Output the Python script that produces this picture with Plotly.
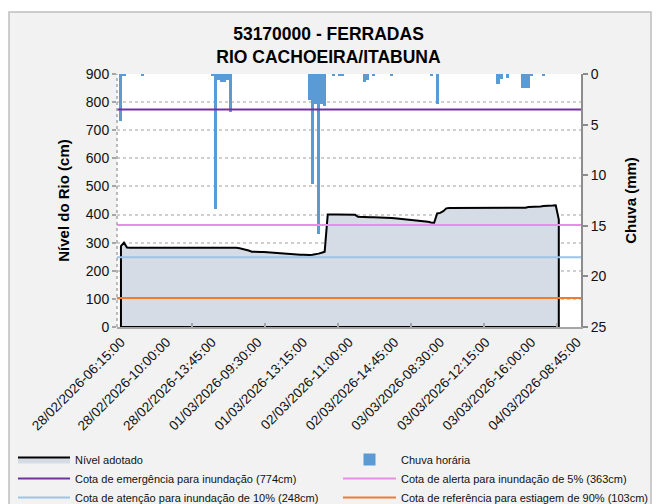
import plotly.graph_objects as go

# ---------------- data ----------------
tick_labels = [
    "28/02/2026-06:15:00", "28/02/2026-10:00:00", "28/02/2026-13:45:00",
    "01/03/2026-09:30:00", "01/03/2026-13:15:00", "02/03/2026-11:00:00",
    "02/03/2026-14:45:00", "03/03/2026-08:30:00", "03/03/2026-12:15:00",
    "03/03/2026-16:00:00", "04/03/2026-08:45:00",
]

level_cm = [
    288, 300, 283, 282, 282, 283, 282, 282, 282, 282,
    282, 282, 282, 282, 282, 282, 282, 282, 282, 282,
    282, 282, 282, 282, 282, 282, 282, 282, 282, 282,
    282, 282, 282, 282, 282, 282, 282, 282, 282, 280,
    278, 276, 272, 268, 267, 267, 267, 267, 266, 265,
    264, 263, 262, 262, 261, 260, 259, 258, 257, 257,
    257, 256, 256, 257, 258, 261, 264, 268, 400, 401,
    400, 400, 400, 400, 399, 399, 400, 399, 392, 391,
    390, 390, 390, 390, 390, 390, 390, 389, 389, 388,
    387, 386, 385, 384, 383, 381, 380, 379, 378, 376,
    375, 374, 372, 371, 404, 406, 412, 422, 423, 423,
    423, 423, 423, 423, 423, 423, 423, 423, 423, 423,
    423, 423, 423, 423, 423, 423, 423, 423, 423, 423,
    423, 423, 423, 424, 427, 427, 428, 428, 429, 430,
    430, 431, 432, 433, 382,
]

rain_mm = [
    4.6, 0.2, 0, 0, 0, 0, 0, 0.2, 0, 0,
    0, 0, 0, 0, 0, 0, 0, 0, 0, 0,
    0, 0, 0, 0, 0, 0, 0, 0, 0, 0,
    0.2, 13.3, 0.6, 0.8, 0.8, 0.6, 3.8, 0, 0, 0,
    0, 0, 0, 0, 0, 0, 0, 0, 0, 0,
    0, 0, 0, 0, 0, 0, 0, 0, 0, 0,
    0, 0, 2.6, 10.9, 3.0, 15.8, 3.0, 3.2, 0, 0,
    0.2, 0, 0.2, 0.2, 0, 0, 0, 0, 0, 0,
    0.8, 0.6, 0, 0.2, 0, 0, 0, 0, 0, 0.2,
    0, 0, 0, 0, 0, 0, 0, 0, 0, 0,
    0, 0, 0.2, 0, 3.0, 0, 0, 0, 0, 0,
    0, 0, 0, 0, 0, 0, 0, 0, 0, 0,
    0, 0, 0, 0, 1.0, 0.5, 0, 0.4, 0, 0,
    0, 0, 1.4, 1.4, 1.4, 0.2, 0, 0, 0, 0.2,
    0, 0, 0, 0, 0,
]

threshold_names = [
    "Cota de emergência para inundação (774cm)",
    "Cota de alerta para inundação de 5% (363cm)",
    "Cota de atenção para inundação de 10% (248cm)",
    "Cota de referência para estiagem de 90% (103cm)",
]
threshold_values = [774, 363, 248, 103]
threshold_colors = ["#7030A0", "#E88EE6", "#9DC3E6", "#ED7D31"]
threshold_legends = ["legend", "legend2", "legend", "legend2"]

# ---------------- figure ----------------
FONT = "Liberation Sans, Arial, sans-serif"
W, H = 657, 504
ML, MR, MT, MB = 117, 76, 74, 177
PW, PH = W - ML - MR, H - MT - MB

x = list(range(len(level_cm)))
label_step = 15
tickvals = [i * label_step for i in range(len(tick_labels))]
x_min, x_max = -1.3, tickvals[-1] + 1.3

def px_x(p):
    return (p - ML) / PW

def px_y(p):
    return (H - MB - p) / PH

fig = go.Figure()

# level area (closed polygon so the outline runs around the whole area)
poly_x = [x[0]] + x + [x[-1], x[0]]
poly_y = [0] + level_cm + [0, 0]
fig.add_trace(go.Scatter(
    x=poly_x, y=poly_y, mode="lines", fill="toself",
    fillcolor="#D6DCE5", line=dict(color="black", width=2),
    name="Nível adotado", yaxis="y2", legend="legend", legendrank=1,
    hoverinfo="skip",
))

# rain bars on the reversed right axis
fig.add_trace(go.Bar(
    x=x, y=rain_mm, marker=dict(color="#5B9BD5", line=dict(width=0)),
    name="Chuva horária", yaxis="y", legend="legend2", legendrank=2,
))

for i, (nm, v, c, lg) in enumerate(zip(threshold_names, threshold_values,
                                        threshold_colors, threshold_legends)):
    fig.add_trace(go.Scatter(
        x=[x_min, x_max], y=[v, v], mode="lines",
        line=dict(color=c, width=2), name=nm, yaxis="y2",
        legend=lg, legendrank=3 + i,
    ))

grey = "#A6A6A6"
fig.update_layout(
    width=W, height=H,
    margin=dict(l=ML, r=MR, t=MT, b=MB, autoexpand=False),
    paper_bgcolor="#F2F2F2", plot_bgcolor="white",
    font=dict(family=FONT, size=14, color="#111111"),
    bargap=0,
    showlegend=True,
    title=dict(
        text="<b>53170000 - FERRADAS</b><br><b>RIO CACHOEIRA/ITABUNA</b>",
        x=0.5, xref="container", xanchor="center",
        y=1 - 40 / H, yref="container", yanchor="top",
        font=dict(family=FONT, size=17.5, color="black"),
    ),
    xaxis=dict(
        range=[x_min, x_max], tickmode="array", tickvals=tickvals,
        ticktext=tick_labels, tickangle=-45, ticks="",
        showline=True, linecolor=grey, linewidth=2, showgrid=False,
        zeroline=False, tickfont=dict(size=13.5),
        minor=dict(tickmode="array",
                   tickvals=[23.5 + 24 * k for k in range(6)],
                   ticks="inside", ticklen=4, tickcolor=grey, tickwidth=1.5,
                   showgrid=False),
    ),
    yaxis=dict(
        side="right", range=[25, 0], tickmode="array",
        tickvals=[0, 5, 10, 15, 20, 25], ticks="outside", ticklen=5,
        tickcolor="#8C8C8C", tickwidth=1.5,
        showline=True, linecolor="#8C8C8C", linewidth=2, showgrid=False,
        zeroline=False,
        title=dict(text="<b>Chuva (mm)</b>", standoff=20,
                   font=dict(size=15, color="black")),
    ),
    yaxis2=dict(
        overlaying="y", side="left", range=[0, 900], dtick=100,
        ticks="outside", ticklen=4, tickcolor=grey, tickwidth=1.5,
        showgrid=True, gridcolor="#CFCFCF", griddash="dot", gridwidth=1.5,
        showline=False, zeroline=False,
        title=dict(text="<b>Nível do Rio (cm)</b>", standoff=12,
                   font=dict(size=15, color="black")),
    ),
    legend=dict(
        x=px_x(13), xanchor="left", y=px_y(445), yanchor="top",
        orientation="v", bgcolor="rgba(0,0,0,0)", itemwidth=52,
        tracegroupgap=0,
        font=dict(size=11, color="#111111"), traceorder="normal",
    ),
    legend2=dict(
        x=px_x(338), xanchor="left", y=px_y(445), yanchor="top",
        orientation="v", bgcolor="rgba(0,0,0,0)", itemwidth=53,
        tracegroupgap=0,
        font=dict(size=11, color="#111111"), traceorder="normal",
    ),
    shapes=[
        # white surroundings outside the chart border
        dict(type="rect", xref="paper", yref="paper", layer="below",
             x0=px_x(-5), x1=px_x(9), y0=px_y(H + 5), y1=px_y(-5),
             fillcolor="white", line=dict(width=0)),
        dict(type="rect", xref="paper", yref="paper", layer="below",
             x0=px_x(-5), x1=px_x(W + 5), y0=px_y(12), y1=px_y(-5),
             fillcolor="white", line=dict(width=0)),
        dict(type="rect", xref="paper", yref="paper", layer="below",
             x0=px_x(651), x1=px_x(W + 5), y0=px_y(H + 5), y1=px_y(-5),
             fillcolor="white", line=dict(width=0)),
        # chart border
        dict(type="rect", xref="paper", yref="paper", layer="above",
             x0=px_x(9), x1=px_x(651), y0=px_y(H + 10), y1=px_y(12),
             fillcolor="rgba(0,0,0,0)", line=dict(color="#BFBFBF", width=1.5)),
        # dotted left axis line
        dict(type="line", xref="paper", yref="paper", layer="above",
             x0=0, x1=0, y0=0, y1=1,
             line=dict(color=grey, width=1.5, dash="dot")),
    ],
)

fig.write_html(
    "out.html",
    config={"displayModeBar": False},
    post_script="document.body.style.margin='0';document.body.style.padding='0';",
)
